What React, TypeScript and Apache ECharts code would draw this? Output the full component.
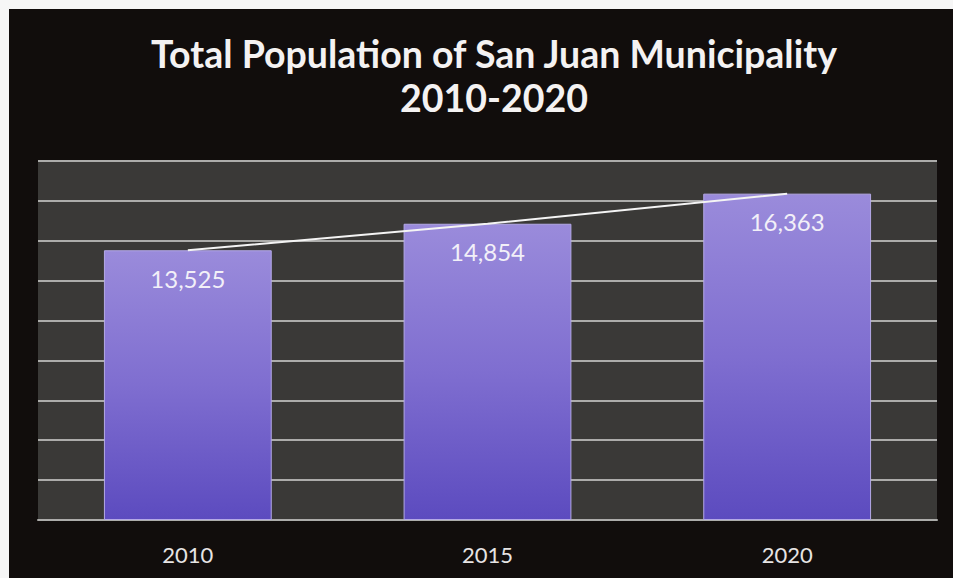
import React, { useEffect, useRef } from "react";
import * as echarts from "echarts";

const categories = ["2010", "2015", "2020"];
const population = [13525, 14854, 16363];
const yMin = 0;
const yMax = 18000;
const yInterval = 2000;

export default function App() {
  const ref = useRef<HTMLDivElement>(null);
  useEffect(() => {
    document.body.style.margin = "0";
    if (!ref.current) return;
    const chart = echarts.init(ref.current, undefined, { renderer: "svg" });
    chart.setOption({
      animation: false,
      backgroundColor: "#110d0c",
      title: {
        text: "Total Population of San Juan Municipality\n2010-2020",
        left: 480,
        textAlign: "center",
        top: 17,
        textStyle: {
          color: "#f4f2f2",
          fontFamily: "Lato",
          fontWeight: "bold",
          fontSize: 37.5,
          lineHeight: 44,
        },
      },
      grid: {
        left: 29,
        right: 16,
        top: 152,
        bottom: 58,
        show: true,
        backgroundColor: "#3a3937",
        borderWidth: 0,
      },
      xAxis: {
        type: "category",
        data: categories,
        axisLine: { show: true, lineStyle: { color: "#acacaa", width: 2 } },
        axisTick: { show: false },
        axisLabel: {
          color: "#e6e4e4",
          fontFamily: "Lato",
          fontSize: 22,
          margin: 23,
        },
      },
      yAxis: {
        type: "value",
        min: yMin,
        max: yMax,
        interval: yInterval,
        axisLabel: { show: false },
        axisLine: { show: false },
        axisTick: { show: false },
        splitLine: { show: true, lineStyle: { color: "#acacaa", width: 2 } },
      },
      series: [
        {
          type: "bar",
          data: population,
          barWidth: "56%",
          itemStyle: {
            color: new echarts.graphic.LinearGradient(0, 0, 0, 1, [
              { offset: 0, color: "#9a8bdb" },
              { offset: 0.5, color: "#7f6ed0" },
              { offset: 1, color: "#5c4bbf" },
            ]),
            borderColor: "#b4a9e6",
            borderWidth: 1,
          },
          label: {
            show: true,
            position: "insideTop",
            distance: 16,
            color: "#f2f0f8",
            fontFamily: "Lato",
            fontSize: 24,
            formatter: (p: any) => Number(p.value).toLocaleString("en-US"),
          },
          z: 2,
        },
        {
          type: "line",
          data: population,
          symbol: "none",
          lineStyle: { color: "#f4f4f4", width: 2 },
          z: 3,
        },
      ],
    });
    return () => chart.dispose();
  }, []);
  return (
    <div
      style={{
        width: 953,
        height: 578,
        boxSizing: "border-box",
        background: "#110d0c",
        borderTop: "9px solid #f6f6f6",
        borderLeft: "9px solid #f6f6f6",
        overflow: "hidden",
      }}
    >
      <div ref={ref} style={{ width: 944, height: 569 }} />
    </div>
  );
}
